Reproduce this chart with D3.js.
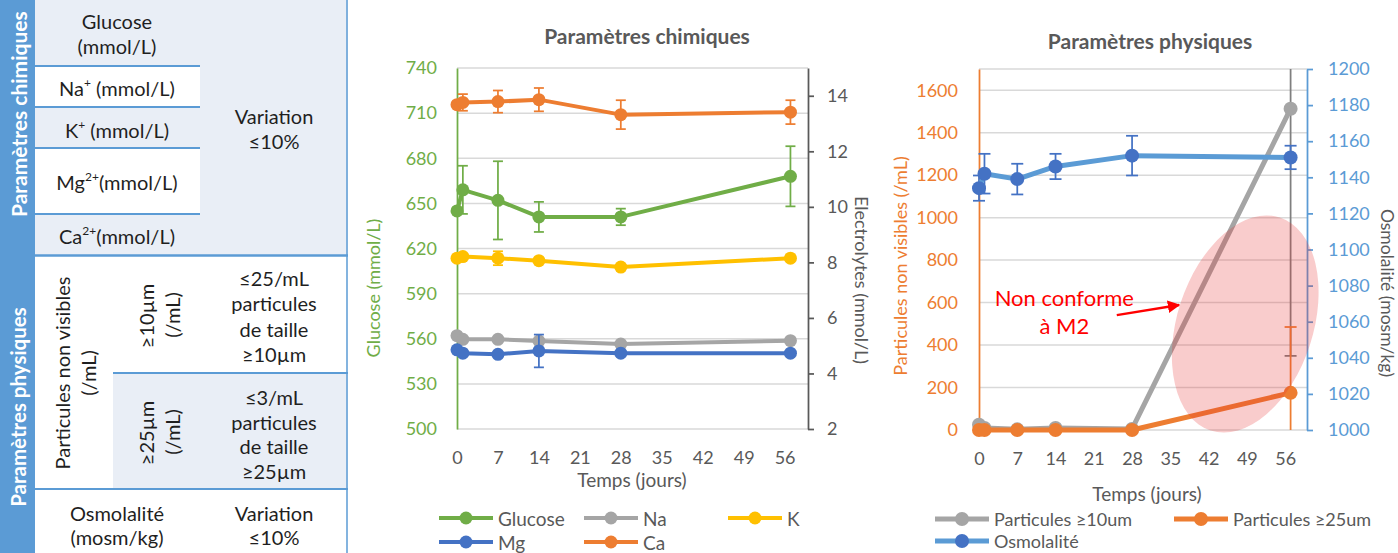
<!DOCTYPE html>
<html>
<head>
<meta charset="utf-8">
<script src="https://cdn.jsdelivr.net/npm/d3@7"></script>
<style>
  body { margin: 0; background: #fff; }
  svg { display: block; }
</style>
</head>
<body>
<svg id="fig" width="1398" height="553"></svg>
<script>
// ---- data ----
var days = [0, 1, 7, 14, 28, 57];
var dayTicks = [0, 7, 14, 21, 28, 35, 42, 49, 56];

var glucoseTicks = [500, 530, 560, 590, 620, 650, 680, 710, 740];
var electroTicks = [2, 4, 6, 8, 10, 12, 14];
var partTicks = [0, 200, 400, 600, 800, 1000, 1200, 1400, 1600];
var osmoTicks = [1000, 1020, 1040, 1060, 1080, 1100, 1120, 1140, 1160, 1180, 1200];

var glucose    = [645, 659, 652, 641, 641, 668];
var glucoseErr = [0, 16, 26, 10, 5.5, 20];
var na    = [5.36, 5.23, 5.23, 5.17, 5.06, 5.18];
var naErr = [0, 0, 0, 0, 0, 0];
var k     = [8.15, 8.21, 8.15, 8.06, 7.83, 8.15];
var kErr  = [0, 0, 0.25, 0, 0, 0];
var mg    = [4.85, 4.73, 4.69, 4.81, 4.73, 4.73];
var mgErr = [0, 0, 0, 0.59, 0, 0];
var ca    = [13.68, 13.76, 13.79, 13.86, 13.32, 13.41];
var caErr = [0, 0.3, 0.4, 0.42, 0.52, 0.43];

var part10    = [25, 10, 3, 10, 5, 1513];
var part10Err = [0, 0, 0, 0, 0, 1164];
var part25    = [0, 0, 0, 0, 0, 175];
var part25Err = [0, 0, 0, 0, 0, 310];
var osmo      = [1134, 1142, 1139, 1146, 1152, 1151];
var osmoErr   = [7, 11, 8.5, 7, 11, 6.5];

var chemNames = ["Glucose", "Na", "K", "Mg", "Ca"];
var physNames = ["Particules \u226510um", "Particules \u226525um", "Osmolalit\u00e9"];

// ---- style ----
var font = "Lato, 'Open Sans', sans-serif";
var txtGray = "#595959", gridCol = "#D9D9D9";
var green = "#70AD47", gray = "#A5A5A5", yellow = "#FFC000", blue = "#4472C4",
    orange = "#ED7D31", lightBlue = "#5B9BD5", tblBlue = "#5B9BD5", tblFill = "#E9EEF6";
var fmt = d3.format("d");

var svg = d3.select("#fig").attr("font-family", font);

// ---------- table ----------
var T = svg.append("g").attr("font-size", 20).attr("fill", "#1f1f1f");
function rect(x, y, w, h, f) {
  T.append("rect").attr("x", x).attr("y", y).attr("width", w).attr("height", h).attr("fill", f);
}
function hline(x1, x2, y, w) {
  T.append("line").attr("x1", x1).attr("x2", x2).attr("y1", y).attr("y2", y)
    .attr("stroke", tblBlue).attr("stroke-width", w);
}
function txt(x, y, s) {
  return T.append("text").attr("x", x).attr("y", y).attr("text-anchor", "middle")
    .attr("dominant-baseline", "central").text(s);
}
function vtxt(x, y, s) {
  return T.append("text").attr("transform", "translate(" + x + "," + y + ") rotate(-90)")
    .attr("text-anchor", "middle").attr("dominant-baseline", "central").text(s);
}
function supTxt(x, y, base, sup, rest) {
  var t = T.append("text").attr("x", x).attr("y", y).attr("text-anchor", "middle")
    .attr("dominant-baseline", "central");
  t.append("tspan").text(base);
  t.append("tspan").attr("font-size", 12).attr("dy", -6).text(sup);
  t.append("tspan").attr("dy", 6).text(rest);
}

rect(35, 0, 313, 255, tblFill);
rect(35, 67, 165, 40, "#fff");
rect(35, 149, 165, 65, "#fff");
rect(35, 256, 313, 297, "#fff");
rect(113, 374, 235, 115, tblFill);
rect(0, 0, 35, 553, tblBlue);

hline(35, 200, 66, 2);
hline(35, 200, 107, 2);
hline(35, 200, 148, 2);
hline(35, 200, 214, 2);
hline(35, 348, 255.5, 2.5);
hline(113, 348, 373, 2);
hline(35, 348, 489, 2);
T.append("line").attr("x1", 347).attr("x2", 347).attr("y1", 0).attr("y2", 553)
  .attr("stroke", tblBlue).attr("stroke-width", 1.5);

txt(117, 21, "Glucose");
txt(117, 46, "(mmol/L)");
supTxt(117, 88, "Na", "+", " (mmol/L)");
supTxt(117, 130, "K", "+", " (mmol/L)");
supTxt(117, 182, "Mg", "2+", "(mmol/L)");
supTxt(117, 236, "Ca", "2+", "(mmol/L)");
txt(274, 116, "Variation");
txt(274, 141, "\u226410%");

vtxt(62, 373, "Particules non visibles");
vtxt(88, 373, "(/mL)");
vtxt(146, 316, "\u226510\u00b5m");
vtxt(172, 315, "(/mL)");
vtxt(146, 433, "\u226525\u00b5m");
vtxt(172, 432, "(/mL)");
["\u226425/mL", "particules", "de taille", "\u226510\u00b5m"].forEach(function (s, i) { txt(274, 278 + i * 25.3, s); });
["\u22643/mL", "particules", "de taille", "\u226525\u00b5m"].forEach(function (s, i) { txt(274, 397 + i * 24.7, s); });
txt(117, 513, "Osmolalit\u00e9");
txt(117, 537, "(mosm/kg)");
txt(274, 513, "Variation");
txt(274, 537, "\u226410%");

T.append("text").attr("transform", "translate(18,217) rotate(-90)")
  .attr("text-anchor", "start").attr("dominant-baseline", "central").attr("font-size", 21)
  .attr("fill", "#fff").attr("font-weight", "bold").text("Param\u00e8tres chimiques");
T.append("text").attr("transform", "translate(18,407) rotate(-90)")
  .attr("text-anchor", "middle").attr("dominant-baseline", "central").attr("font-size", 20.5)
  .attr("fill", "#fff").attr("font-weight", "bold").text("Param\u00e8tres physiques");

// ---------- helpers ----------
function errBars(g, x, y, vals, errs, color, capW) {
  var d0 = y.domain()[0], d1 = y.domain()[1];
  days.forEach(function (d, i) {
    var e = errs[i];
    if (!e) return;
    var lo = vals[i] - e, hi = vals[i] + e, cx = x(d);
    g.append("line").attr("x1", cx).attr("x2", cx)
      .attr("y1", y(Math.max(lo, d0))).attr("y2", y(Math.min(hi, d1)))
      .attr("stroke", color).attr("stroke-width", 1.75);
    [lo, hi].forEach(function (v) {
      if (v < d0 || v > d1) return;
      g.append("line").attr("x1", cx - capW).attr("x2", cx + capW)
        .attr("y1", y(v)).attr("y2", y(v)).attr("stroke", color).attr("stroke-width", 1.75);
    });
  });
}
function series(g, x, y, vals, color, mColor, lw, r) {
  var line = d3.line().x(function (d, i) { return x(days[i]); }).y(function (d) { return y(d); });
  g.append("path").datum(vals).attr("d", line).attr("fill", "none")
    .attr("stroke", color).attr("stroke-width", lw).attr("stroke-linejoin", "round");
  g.selectAll(null).data(vals).enter().append("circle")
    .attr("cx", function (d, i) { return x(days[i]); })
    .attr("cy", function (d) { return y(d); })
    .attr("r", r).attr("fill", mColor);
}
function styleAxis(a, col, size) {
  a.attr("font-family", font).attr("font-size", size);
  a.selectAll("text").attr("fill", col);
}
function legendItem(g, x, y, name, col, mCol, lw, r, fs) {
  g.append("line").attr("x1", x).attr("x2", x + 54).attr("y1", y).attr("y2", y)
    .attr("stroke", col).attr("stroke-width", lw);
  g.append("circle").attr("cx", x + 27).attr("cy", y).attr("r", r).attr("fill", mCol);
  g.append("text").attr("x", x + 59).attr("y", y).attr("dominant-baseline", "central")
    .attr("font-size", fs).attr("fill", txtGray).text(name);
}

// ---------- chart 1 : chemical ----------
var x1 = d3.scaleLinear().domain([0, 60]).range([457, 808]);
var yG = d3.scaleLinear().domain([500, 740]).range([429, 68]);
var yE = d3.scaleLinear().domain([2, 15]).range([429, 68]);
var c1 = svg.append("g");

c1.selectAll(null).data(glucoseTicks).enter().append("line")
  .attr("x1", x1(0)).attr("x2", x1(60))
  .attr("y1", function (d) { return yG(d); }).attr("y2", function (d) { return yG(d); })
  .attr("stroke", gridCol).attr("stroke-width", 1.5);

var ax1L = c1.append("g").attr("transform", "translate(" + x1(0) + ",0)")
  .call(d3.axisLeft(yG).tickValues(glucoseTicks).tickFormat(fmt).tickSize(0).tickSizeOuter(0).tickPadding(20));
ax1L.select(".domain").attr("stroke", green).attr("stroke-width", 1.75);
styleAxis(ax1L, green, 18);

var ax1R = c1.append("g").attr("transform", "translate(" + x1(60) + ",0)")
  .call(d3.axisRight(yE).tickValues(electroTicks).tickFormat(fmt).tickSize(6).tickSizeOuter(0).tickPadding(13));
ax1R.selectAll(".domain, line").attr("stroke", txtGray).attr("stroke-width", 1.75);
styleAxis(ax1R, txtGray, 18);

var ax1B = c1.append("g").attr("transform", "translate(0," + yG(500) + ")")
  .call(d3.axisBottom(x1).tickValues(dayTicks).tickFormat(fmt).tickSize(0).tickPadding(22));
ax1B.select(".domain").remove();
styleAxis(ax1B, txtGray, 18);

errBars(c1, x1, yG, glucose, glucoseErr, green, 5);
series(c1, x1, yG, glucose, green, green, 4, 6.5);
errBars(c1, x1, yE, na, naErr, gray, 5);
series(c1, x1, yE, na, gray, gray, 4, 6.5);
errBars(c1, x1, yE, k, kErr, yellow, 5);
series(c1, x1, yE, k, yellow, yellow, 4, 6.5);
errBars(c1, x1, yE, mg, mgErr, blue, 5);
series(c1, x1, yE, mg, blue, blue, 4, 6.5);
errBars(c1, x1, yE, ca, caErr, orange, 5);
series(c1, x1, yE, ca, orange, orange, 4, 6.5);

c1.append("text").attr("x", 647).attr("y", 35).attr("text-anchor", "middle")
  .attr("dominant-baseline", "central").attr("font-size", 21).attr("font-weight", "bold")
  .attr("fill", txtGray).text("Param\u00e8tres chimiques");
c1.append("text").attr("transform", "translate(373,288) rotate(-90)")
  .attr("text-anchor", "middle").attr("dominant-baseline", "central")
  .attr("font-size", 18).attr("fill", green).text("Glucose (mmol/L)");
c1.append("text").attr("transform", "translate(862,280) rotate(90)")
  .attr("text-anchor", "middle").attr("dominant-baseline", "central")
  .attr("font-size", 18).attr("fill", txtGray).text("Electrolytes (mmol/L)");
c1.append("text").attr("x", 632).attr("y", 479).attr("text-anchor", "middle")
  .attr("dominant-baseline", "central").attr("font-size", 19).attr("fill", txtGray)
  .text("Temps (jours)");

var chemCols = [green, gray, yellow, blue, orange];
var leg1X = [439, 584, 728], leg1Y = [518, 542];
chemNames.forEach(function (n, i) {
  legendItem(c1, leg1X[i % 3], leg1Y[Math.floor(i / 3)], n, chemCols[i], chemCols[i], 4, 6.5, 19);
});

// ---------- chart 2 : physical ----------
var x2 = d3.scaleLinear().domain([0, 60]).range([979, 1307]);
var yP = d3.scaleLinear().domain([0, 1700]).range([430, 69]);
var yO = d3.scaleLinear().domain([1000, 1200]).range([430, 69]);
var c2 = svg.append("g");

c2.selectAll(null).data(partTicks.concat([1700])).enter().append("line")
  .attr("x1", x2(0)).attr("x2", x2(60))
  .attr("y1", function (d) { return yP(d); }).attr("y2", function (d) { return yP(d); })
  .attr("stroke", gridCol).attr("stroke-width", 1.5);

var ax2L = c2.append("g").attr("transform", "translate(" + x2(0) + ",0)")
  .call(d3.axisLeft(yP).tickValues(partTicks).tickFormat(fmt).tickSize(0).tickSizeOuter(0).tickPadding(21));
ax2L.select(".domain").attr("stroke", orange).attr("stroke-width", 1.75);
styleAxis(ax2L, orange, 18);

var ax2R = c2.append("g").attr("transform", "translate(" + x2(60) + ",0)")
  .call(d3.axisRight(yO).tickValues(osmoTicks).tickFormat(fmt).tickSize(6).tickSizeOuter(0).tickPadding(15));
ax2R.selectAll(".domain, line").attr("stroke", lightBlue).attr("stroke-width", 1.75);
styleAxis(ax2R, lightBlue, 18);

var ax2B = c2.append("g").attr("transform", "translate(0," + yP(0) + ")")
  .call(d3.axisBottom(x2).tickValues(dayTicks).tickFormat(fmt).tickSize(0).tickPadding(22));
ax2B.select(".domain").remove();
styleAxis(ax2B, txtGray, 18);

errBars(c2, x2, yP, part10, part10Err, "#7F7F7F", 6);
series(c2, x2, yP, part10, gray, gray, 5, 7);
errBars(c2, x2, yP, part25, part25Err, orange, 6);
series(c2, x2, yP, part25, orange, orange, 5, 7);
errBars(c2, x2, yO, osmo, osmoErr, blue, 6);
series(c2, x2, yO, osmo, lightBlue, blue, 5, 7);

// annotation: ellipse + arrow + text
c2.append("ellipse")
  .attr("transform", "translate(" + x2(48.7) + "," + yP(499) + ") rotate(18)")
  .attr("rx", 68).attr("ry", 112).attr("fill", "rgba(230,50,50,0.25)");
c2.append("defs").append("marker").attr("id", "arr").attr("viewBox", "0 0 10 10")
  .attr("refX", 9).attr("refY", 5).attr("markerWidth", 5).attr("markerHeight", 5)
  .attr("orient", "auto").append("path").attr("d", "M0,0L10,5L0,10z").attr("fill", "#FF0000");
c2.append("line").attr("x1", x2(25.2)).attr("y1", yP(541)).attr("x2", x2(36.6)).attr("y2", yP(589))
  .attr("stroke", "#FF0000").attr("stroke-width", 2.5).attr("marker-end", "url(#arr)");
c2.append("text").attr("x", x2(15.6)).attr("y", yP(626)).attr("text-anchor", "middle")
  .attr("dominant-baseline", "central").attr("font-size", 22).attr("fill", "#FF0000").text("Non conforme");
c2.append("text").attr("x", x2(15.6)).attr("y", yP(494)).attr("text-anchor", "middle")
  .attr("dominant-baseline", "central").attr("font-size", 22).attr("fill", "#FF0000").text("\u00e0 M2");

c2.append("text").attr("x", 1150).attr("y", 40).attr("text-anchor", "middle")
  .attr("dominant-baseline", "central").attr("font-size", 21).attr("font-weight", "bold")
  .attr("fill", txtGray).text("Param\u00e8tres physiques");
c2.append("text").attr("transform", "translate(900,266) rotate(-90)")
  .attr("text-anchor", "middle").attr("dominant-baseline", "central")
  .attr("font-size", 18).attr("fill", orange).text("Particules non visibles (/mL)");
c2.append("text").attr("transform", "translate(1387,293) rotate(90)")
  .attr("text-anchor", "middle").attr("dominant-baseline", "central")
  .attr("font-size", 17.5).attr("fill", txtGray).text("Osmolalit\u00e9 (mosm/kg)");
c2.append("text").attr("x", 1147).attr("y", 493).attr("text-anchor", "middle")
  .attr("dominant-baseline", "central").attr("font-size", 19).attr("fill", txtGray)
  .text("Temps (jours)");

var physCols = [gray, orange, lightBlue], physMk = [gray, orange, blue];
var leg2X = [935, 1174], leg2Y = [519, 541];
physNames.forEach(function (n, i) {
  legendItem(c2, leg2X[i % 2], leg2Y[Math.floor(i / 2)], n, physCols[i], physMk[i], 5, 7, 18);
});
</script>
</body>
</html>
